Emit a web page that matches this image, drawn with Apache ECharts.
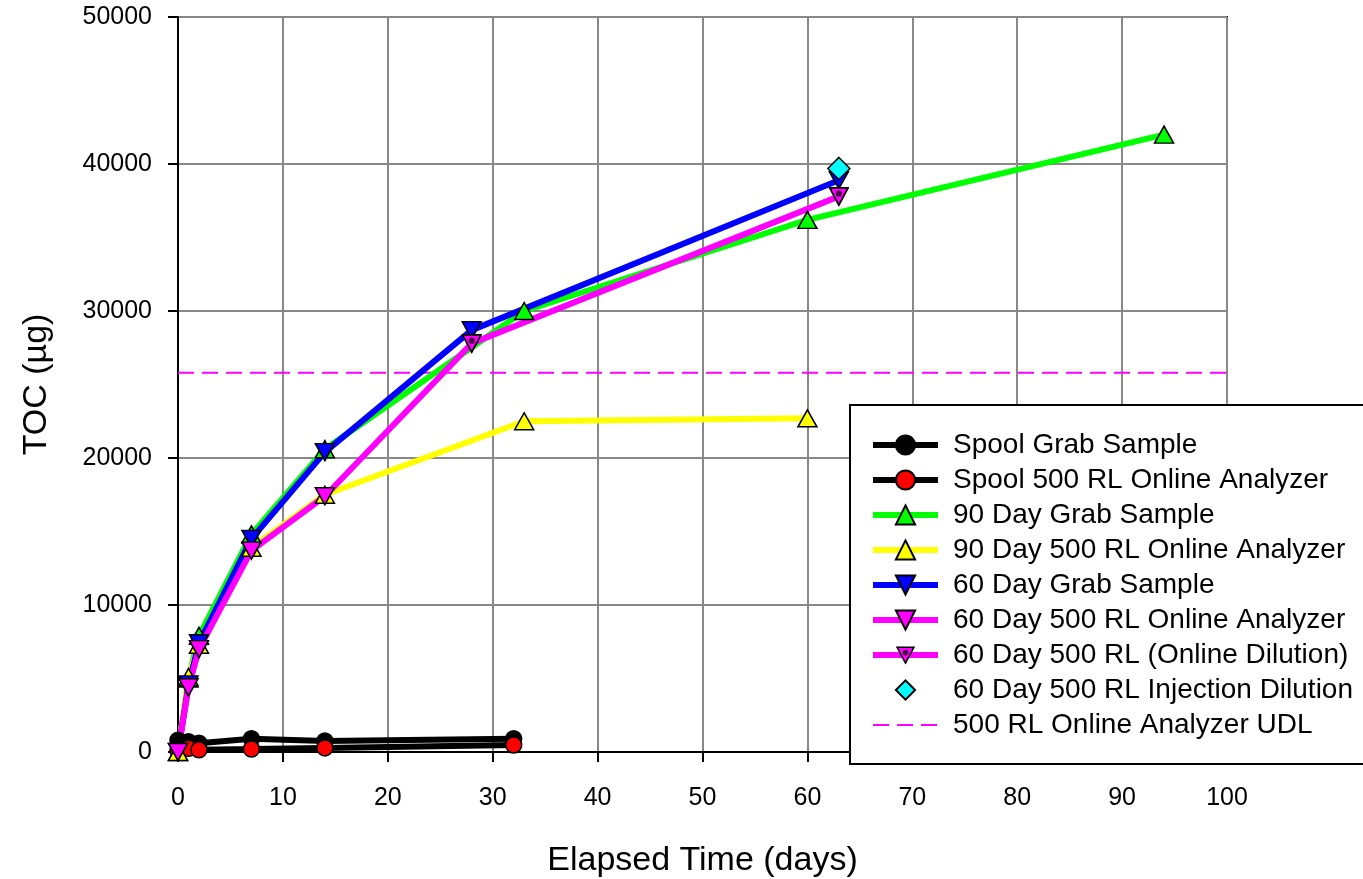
<!DOCTYPE html>
<html>
<head>
<meta charset="utf-8">
<script src="https://cdn.jsdelivr.net/npm/echarts@6/dist/echarts.min.js"></script>
<style>
  html, body { margin: 0; padding: 0; background: #fff; }
  #chart { width: 1363px; height: 879px; }
</style>
</head>
<body>
<div id="chart"></div>
<script>
// values
var spoolGrabDays = [0, 1, 2, 7, 14, 32];
var spoolGrab = [800, 700, 600, 900, 750, 900];
var spoolOnlineDays = [0, 1, 2, 7, 14, 32];
var spoolOnline = [100, 250, 150, 200, 280, 480];
var grab90Days = [0, 1, 2, 7, 14, 33, 60, 94];
var grab90 = [0, 5000, 7900, 14800, 20600, 30000, 36200, 42000];
var online90Days = [0, 1, 2, 7, 14, 33, 60];
var online90 = [0, 5100, 7300, 13900, 17500, 22500, 22700];
var grab60Days = [0, 1, 2, 7, 14, 28, 63];
var grab60 = [0, 4600, 7400, 14500, 20400, 28700, 38900];
var online60Days = [0, 1, 2, 7, 14];
var online60 = [0, 4400, 7000, 13700, 17400];
var dilution60Days = [28, 63];
var dilution60 = [27800, 37800];
var injectionDays = [63];
var injection = [39700];
var udlValue = 25800;
var udlRange = [0, 100];

var names = [
  'Spool Grab Sample',
  'Spool 500 RL Online Analyzer',
  '90 Day Grab Sample',
  '90 Day 500 RL Online Analyzer',
  '60 Day Grab Sample',
  '60 Day 500 RL Online Analyzer',
  '60 Day 500 RL (Online Dilution)',
  '60 Day 500 RL Injection Dilution',
  '500 RL Online Analyzer UDL'
];

function pairs(xs, ys) {
  return xs.map(function (x, i) { return [x, ys[i]]; });
}

// pink down triangle with a dark dot in it
var dilutionSvg = "<svg xmlns='http://www.w3.org/2000/svg' width='20' height='20' viewBox='0 0 20 20'>" +
  "<polygon points='1.2,2 18.8,2 10,18.5' fill='#ff00ff' stroke='#000' stroke-width='1.6' stroke-linejoin='miter'/>" +
  "<circle cx='10' cy='7.5' r='3' fill='#4a004a'/></svg>";
var dilutionSymbol = 'image://data:image/svg+xml;charset=utf-8,' + encodeURIComponent(dilutionSvg);

// dilution line continues from the last online point at day 14
var dilutionData = [{
  value: [online60Days[online60Days.length - 1], online60[online60.length - 1]],
  symbol: 'none'
}].concat(pairs(dilution60Days, dilution60));

var legendData = names.map(function (n, i) {
  if (i === 7) return { name: n, lineStyle: { width: 0, opacity: 0 } };
  if (i === 8) return { name: n, lineStyle: { width: 2 }, itemStyle: { opacity: 0 } };
  return { name: n };
});

var chart = echarts.init(document.getElementById('chart'));

var mk = { borderColor: '#000', borderWidth: 1.5 };

chart.setOption({
  animation: false,
  textStyle: { fontFamily: 'Liberation Sans, Arial, sans-serif' },
  grid: {
    left: 178, top: 17, right: 136, bottom: 127,
    containLabel: false,
    outerBoundsMode: 'none',
    show: true, borderColor: '#000', borderWidth: 2, backgroundColor: '#fff'
  },
  legend: {
    orient: 'vertical',
    left: 850,
    top: 405,
    padding: [26, 40, 25, 20],
    backgroundColor: '#fff',
    borderColor: '#000',
    borderWidth: 2,
    itemWidth: 65,
    itemHeight: 24,
    itemGap: 7,
    lineStyle: { width: 6 },
    textStyle: { fontSize: 28, color: '#000', lineHeight: 24, padding: [0, 0, 0, 10] },
    data: legendData
  },
  xAxis: {
    type: 'value',
    min: 0, max: 100, interval: 10,
    name: 'Elapsed Time (days)',
    nameLocation: 'middle',
    nameGap: 92,
    nameTextStyle: { fontSize: 34, color: '#000' },
    axisLine: { lineStyle: { color: '#000', width: 2 } },
    axisTick: { show: true, inside: false, length: 10, lineStyle: { color: '#000', width: 2 } },
    axisLabel: { fontSize: 25, color: '#000', margin: 34 },
    splitLine: { lineStyle: { color: '#888', width: 2 } }
  },
  yAxis: {
    type: 'value',
    min: 0, max: 50000, interval: 10000,
    name: 'TOC (µg)',
    nameLocation: 'middle',
    nameGap: 124,
    nameTextStyle: { fontSize: 34, color: '#000' },
    axisLine: { show: true, lineStyle: { color: '#000', width: 2 } },
    axisTick: { show: true, inside: false, length: 10, lineStyle: { color: '#000', width: 2 } },
    axisLabel: { fontSize: 25, color: '#000', margin: 26, formatter: function (v) { return String(v); } },
    splitLine: { lineStyle: { color: '#888', width: 2 } }
  },
  series: [
    {
      name: names[0], type: 'line', data: pairs(spoolGrabDays, spoolGrab),
      symbol: 'circle', symbolSize: 16,
      lineStyle: { color: '#000', width: 6 },
      itemStyle: { color: '#000', borderColor: '#000', borderWidth: 1.5 }
    },
    {
      name: names[1], type: 'line', data: pairs(spoolOnlineDays, spoolOnline),
      symbol: 'circle', symbolSize: 16,
      lineStyle: { color: '#000', width: 6 },
      itemStyle: { color: '#ff0000', borderColor: '#000', borderWidth: 1.5 }
    },
    {
      name: names[2], type: 'line', data: pairs(grab90Days, grab90),
      symbol: 'triangle', symbolSize: [19, 17],
      lineStyle: { color: '#00ff00', width: 6 },
      itemStyle: Object.assign({ color: '#00ff00' }, mk)
    },
    {
      name: names[3], type: 'line', data: pairs(online90Days, online90),
      symbol: 'triangle', symbolSize: [19, 17],
      lineStyle: { color: '#ffff00', width: 6 },
      itemStyle: Object.assign({ color: '#ffff00' }, mk)
    },
    {
      name: names[4], type: 'line', data: pairs(grab60Days, grab60),
      symbol: 'triangle', symbolRotate: 180, symbolSize: [19, 17],
      lineStyle: { color: '#0000ff', width: 6 },
      itemStyle: Object.assign({ color: '#0000ff' }, mk)
    },
    {
      name: names[5], type: 'line', data: pairs(online60Days, online60),
      symbol: 'triangle', symbolRotate: 180, symbolSize: [19, 17],
      lineStyle: { color: '#ff00ff', width: 6 },
      itemStyle: Object.assign({ color: '#ff00ff' }, mk)
    },
    {
      name: names[6], type: 'line', data: dilutionData,
      symbol: dilutionSymbol, symbolSize: 21,
      lineStyle: { color: '#ff00ff', width: 6 },
      itemStyle: { color: '#ff00ff' }
    },
    {
      name: names[7], type: 'line', data: pairs(injectionDays, injection),
      symbol: 'diamond', symbolSize: 22, z: 5,
      lineStyle: { width: 0, opacity: 0 },
      itemStyle: Object.assign({ color: '#00ffff' }, mk)
    },
    {
      name: names[8], type: 'line', data: udlRange.map(function (x) { return [x, udlValue]; }),
      symbol: 'none', z: 1,
      lineStyle: { color: '#ff00ff', width: 2, type: [16, 8] },
      itemStyle: { color: '#ff00ff' }
    }
  ]
});
</script>
</body>
</html>
